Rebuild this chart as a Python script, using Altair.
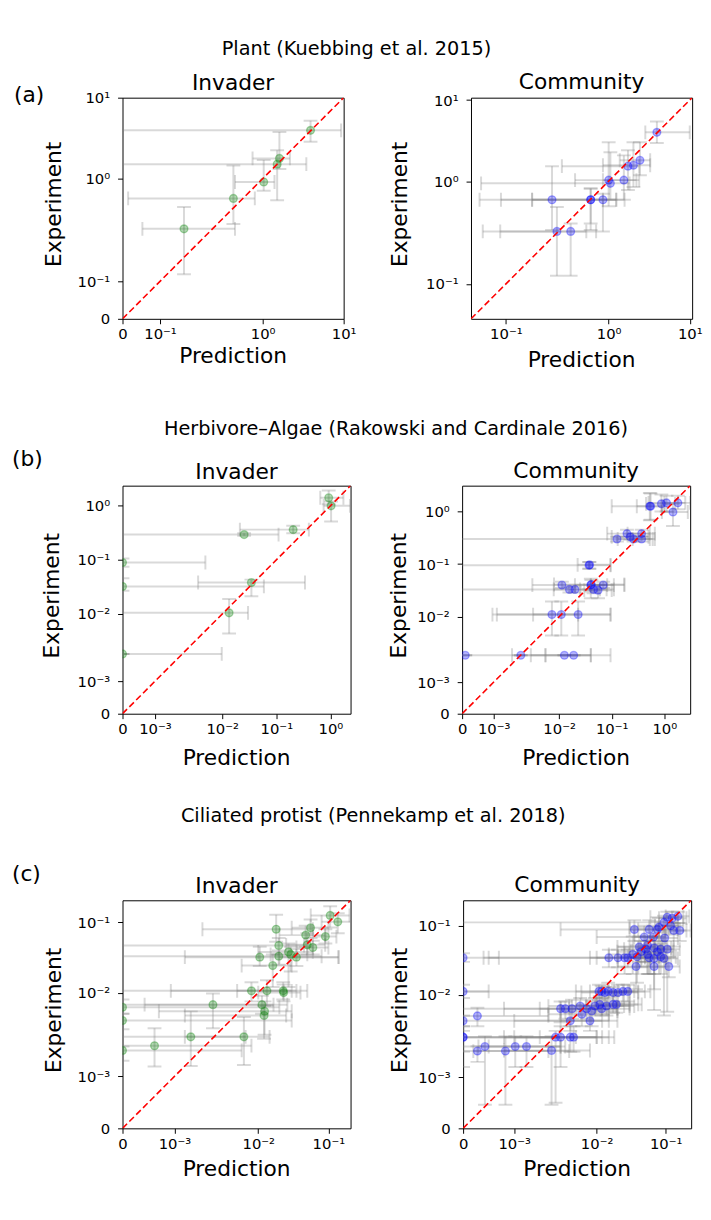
import math
import altair as alt
import pandas as pd

FONT = "DejaVu Sans"
LINSCALE = 1.0 / (1.0 - 1.0 / 10.0)   # symlog linear-region scale (linscale=1, base 10)
ERR_COLOR = "#808080"
ERR_ALPHA = 0.3

# ---------------- data ----------------
# (a) Plant (Kuebbing et al. 2015)
a_lt = 0.24
a_inv_x = [3.9, 1.61, 1.51, 1.03, 0.435, 0.164]
a_inv_y = [3.95, 1.78, 1.51, 0.91, 0.57, 0.24]
a_inv_xlo = [-0.05, 0.75, -0.05, 0.455, 0.015, 0.053]
a_inv_xhi = [9.3, 2.17, 3.46, 1.40, 0.80, 0.455]
a_inv_ylo = [2.85, 1.32, 0.54, 0.71, 0.275, 0.119]
a_inv_yhi = [5.2, 3.77, 2.25, 1.70, 1.45, 0.447]

a_com_x = [3.93, 1.73, 2.02, 2.43, 1.00, 1.05, 1.54, 0.223, 0.60, 0.60, 0.85, 0.236, 0.34]
a_com_y = [4.0, 1.53, 1.57, 1.81, 1.03, 0.94, 1.03, 0.59, 0.59, 0.59, 0.59, 0.24, 0.24]
a_com_xlo = [2.83, 0.265, 0.85, 1.37, 0.385, 0.034, 0.85, 0.087, 0.030, 0.17, 0.17, 0.0385, 0.085]
a_com_xhi = [10.0, 2.38, 3.25, 3.25, 2.38, 1.81, 2.2, 1.24, 0.85, 1.24, 1.57, 0.53, 0.70]
a_com_ylo = [2.96, 0.78, 0.85, 1.18, 0.49, 0.59, 0.59, 0.25, 0.25, 0.30, 0.24, 0.122, 0.122]
a_com_yhi = [5.43, 2.4, 3.02, 3.02, 3.02, 2.28, 2.08, 1.53, 0.81, 0.81, 0.70, 0.48, 0.30]

# (b) Herbivore-Algae (Rakowski and Cardinale 2016)
b_lt = 0.00185
b_inv_x = [0.93, 1.03, 0.205, 0.0254, 0.0, 0.0, 0.0346, 0.0134, 0.0]
b_inv_y = [1.41, 1.0, 0.363, 0.294, 0.0895, 0.0323, 0.0382, 0.0105, 0.00184]
b_inv_xlo = [0.65, 0.75, 0.0212, -0.01, -0.002, -0.002, 0.00358, -0.01, -0.002]
b_inv_xhi = [1.74, 2.3, 0.40, 0.11, 0.00488, 0.0589, 0.339, 0.030, 0.0098]
b_inv_ylo = [1.07, 0.515, 0.31, 0.28, 0.0746, 0.0269, 0.0212, 0.00435, 0.00184]
b_inv_yhi = [1.92, 1.2, 0.43, 0.31, 0.106, 0.0458, 0.0432, 0.019, 0.00184]

b_com_x = [0.53, 1.10, 1.46, 1.81, 0.88, 0.55,
           0.126, 0.195, 0.225, 0.26, 0.37, 0.37,
           0.037, 0.038,
           0.0113, 0.0157, 0.020, 0.040, 0.041, 0.045, 0.055, 0.069,
           0.0073, 0.011, 0.023,
           0.0001, 0.00187, 0.0126, 0.0189]
b_com_y = [1.26, 1.46, 0.98, 1.46, 1.40, 1.26,
           0.30, 0.38, 0.33, 0.30, 0.38, 0.30,
           0.095, 0.097,
           0.040, 0.033, 0.033, 0.040, 0.041, 0.033, 0.032, 0.040,
           0.011, 0.011, 0.011,
           0.00185, 0.00185, 0.00185, 0.00185]
b_com_xlo = [0.10, 0.5, 0.9, 1.0, 0.45, 0.3,
             -0.01, 0.082, 0.1, 0.13, 0.2, 0.25,
             -0.01, 0.0225,
             0.0031, -0.01, 0.0079, 0.02, 0.008, 0.025, 0.03, 0.04,
             0.00096, 0.0011, 0.0032,
             -0.001, 0.00158, 0.0029, 0.0055]
b_com_xhi = [1.0, 2.5, 2.8, 3.1, 1.6, 0.9,
             0.53, 0.53, 0.5, 0.66, 0.66, 0.6,
             0.095, 0.095,
             0.082, 0.11, 0.06, 0.11, 0.174, 0.08, 0.1, 0.174,
             0.023, 0.095, 0.095,
             0.0055, 0.04, 0.095, 0.04]
b_com_ylo = [0.68, 1.0, 0.53, 1.1, 1.0, 0.7,
             0.27, 0.33, 0.29, 0.27, 0.33, 0.27,
             0.082, 0.082,
             0.035, 0.029, 0.029, 0.0225, 0.03, 0.028, 0.0225, 0.035,
             0.0044, 0.0044, 0.0044,
             0.00185, 0.00185, 0.00185, 0.00185]
b_com_yhi = [2.25, 2.0, 1.4, 2.0, 2.1, 2.2,
             0.33, 0.45, 0.38, 0.34, 0.45, 0.34,
             0.11, 0.11,
             0.046, 0.037, 0.037, 0.053, 0.05, 0.038, 0.04, 0.046,
             0.0195, 0.0195, 0.0195,
             0.00185, 0.00185, 0.00185, 0.00185]

# (c) Ciliated protist (Pennekamp et al. 2018)
c_lt = 0.0015
c_inv_x = [0.106, 0.136, 0.0557, 0.018, 0.0474, 0.0906, 0.050, 0.060, 0.0196, 0.027,
           0.029, 0.035, 0.0196, 0.0105, 0.0161, 0.008, 0.0133, 0.0227, 0.023, 0.00226,
           0.0113, 0.0123, 0.0121, 0.0, 0.0, 0.001314, 0.00624, 0.000616, 0.0]
c_inv_y = [0.126, 0.102, 0.084, 0.080, 0.066, 0.063, 0.048, 0.044, 0.047, 0.038,
           0.035, 0.032, 0.033, 0.032, 0.0243, 0.0106, 0.0106, 0.0106, 0.0100, 0.00673,
           0.00673, 0.00542, 0.00472, 0.00618, 0.004, 0.00234, 0.00234, 0.00175, 0.0015]
c_inv_xlo = [0.056, 0.08, 0.03, 0.0016, 0.02, 0.06, 0.025, 0.035, -0.01, 0.01,
             0.015, 0.02, -0.01, 0.0012, 0.0058, 0.00093, -0.01, 0.005, 0.01, 0.000425,
             -0.01, 0.0007, 0.0012, -0.01, -0.01, -0.001, 0.0012, -0.001, -0.01]
c_inv_xhi = [0.2, 0.25, 0.1, 0.06, 0.09, 0.13, 0.09, 0.1, 0.045, 0.06,
             0.05, 0.139, 0.08, 0.14, 0.03, 0.03, 0.05, 0.035, 0.04, 0.0165,
             0.026, 0.03, 0.025, 0.02, 0.03, 0.0066, 0.0145, 0.008, 0.0058]
c_inv_ylo = [0.085, 0.07, 0.06, 0.053, 0.045, 0.05, 0.035, 0.035, 0.035, 0.012,
             0.02, 0.024, 0.025, 0.024, 0.012, 0.0075, 0.0065, 0.008, 0.0075, 0.0031,
             0.005, 0.0025, 0.0022, 0.005, 0.003, 0.0012, 0.00122, 0.00119, 0.0013]
c_inv_yhi = [0.17, 0.135, 0.11, 0.129, 0.09, 0.08, 0.07, 0.055, 0.06, 0.05,
             0.045, 0.042, 0.04, 0.045, 0.035, 0.014, 0.015, 0.014, 0.013, 0.0097,
             0.009, 0.0075, 0.0065, 0.008, 0.005, 0.0054, 0.0045, 0.0031, 0.0017]

c_com_x = [0.0352, 0.0577, 0.0759, 0.1054, 0.124, 0.15, 0.0944, 0.131, 0.16, 0.049,
           0.0665, 0.0966, 0.0415, 0.0546, 0.068, 0.0847, 0.1054, 0.0282, 0.0385, 0.068,
           0.0944, 0.0372, 0.068, 0.111, 0.0150, 0.0204, 0.0254, 0.0333, 0.0439, 0.0516,
           0.118, 0.08, 0.0546, 0.0759, 0.0847, 0.0577,
           0.0108, 0.0118, 0.0131, 0.0147, 0.0173, 0.0204, 0.024, 0.0282, 0.003, 0.00352,
           0.00439, 0.00577, 0.00718, 0.00944, 0.0111, 0.0139, 0.0173, 0.0193, 0.00848, 0.0061,
           0.008, 0.00415, 0.00254, 0.003, 0.00415, 0.00463, 0.00222, 0.0118,
           0.0, 0.0, 0.00028, 0.0, 0.0, 0.0, 0.00028, 0.000427, 0.000828, 0.00102, 0.00124]
c_com_y = [0.0885, 0.0885, 0.0885, 0.133, 0.129, 0.137, 0.112, 0.0855, 0.0855, 0.0687,
           0.0687, 0.0665, 0.0494, 0.0522, 0.0479, 0.0458, 0.0458, 0.0344, 0.0356, 0.0337,
           0.0337, 0.0257, 0.0257, 0.0257, 0.0344, 0.0344, 0.0344, 0.0385, 0.042, 0.0458,
           0.1, 0.0955, 0.0385, 0.042, 0.0356, 0.0344,
           0.0112, 0.0112, 0.0108, 0.0112, 0.0108, 0.0108, 0.0112, 0.0112, 0.0063, 0.0063,
           0.0063, 0.00687, 0.0063, 0.00687, 0.00726, 0.00687, 0.00726, 0.00726, 0.00583, 0.00522,
           0.0042, 0.0042, 0.00243, 0.00243, 0.00243, 0.00243, 0.00156, 0.0063,
           0.0344, 0.0112, 0.00494, 0.0042, 0.00243, 0.00243, 0.00153, 0.00178, 0.00153, 0.00178, 0.00178]
c_com_xlo = [0.003, 0.03, 0.04, 0.06, 0.08, 0.1, -0.01, 0.09, 0.11, 0.01,
             0.035, 0.06, 0.02, 0.03, 0.04, 0.05, 0.07, 0.0005, 0.02, 0.04,
             0.06, 0.02, 0.04, 0.08, 0.0004, 0.008, 0.01, 0.015, 0.02, 0.025,
             0.07, 0.03, 0.03, 0.045, 0.05, 0.03,
             -0.01, 0.005, 0.006, 0.008, 0.01, 0.012, 0.015, 0.018, -0.01, 0.0008,
             0.0015, 0.002, 0.003, 0.004, 0.005, 0.007, 0.01, 0.01, 0.003, 0.002,
             0.003, 0.001, -0.01, 0.0008, 0.001, 0.0015, 0.0008, 0.004,
             -0.01, -0.01, -0.001, -0.01, -0.01, -0.01, -0.001, -0.001, 0.0002, 0.0003, 0.0005]
c_com_xhi = [0.08, 0.1, 0.15, 0.18, 0.2, 0.22, 0.15, 0.2, 0.23, 0.08,
             0.1, 0.15, 0.07, 0.09, 0.12, 0.13, 0.16, 0.06, 0.08, 0.12,
             0.15, 0.06, 0.1, 0.16, 0.05, 0.045, 0.1, 0.06, 0.08, 0.09,
             0.18, 0.14, 0.09, 0.13, 0.14, 0.1,
             0.03, 0.035, 0.025, 0.04, 0.03, 0.04, 0.05, 0.06, 0.012, 0.015,
             0.02, 0.025, 0.02, 0.03, 0.03, 0.035, 0.04, 0.045, 0.02, 0.015,
             0.02, 0.012, 0.01, 0.012, 0.015, 0.018, 0.008, 0.03,
             0.0007, 0.0005, 0.002, 0.015, 0.005, 0.01, 0.004, 0.003, 0.002, 0.003, 0.0035]
c_com_ylo = [0.06, 0.06, 0.065, 0.1, 0.1, 0.11, 0.08, 0.05, 0.06, 0.03,
             0.04, 0.045, 0.03, 0.02, 0.012, 0.03, 0.0057, 0.025, 0.015, 0.02,
             0.005, 0.012, 0.006, 0.018, 0.025, 0.025, 0.02, 0.02, 0.025, 0.03,
             0.075, 0.07, 0.02, 0.025, 0.02, 0.02,
             0.0085, 0.009, 0.0075, 0.0085, 0.008, 0.0075, 0.008, 0.008, 0.004, 0.0045,
             0.0045, 0.005, 0.0045, 0.005, 0.0055, 0.005, 0.0055, 0.0055, 0.0035, 0.0035,
             0.003, 0.003, 0.0005, 0.0012, 0.0015, 0.0015, 0.00046, 0.005,
             0.03, 0.009, 0.0035, 0.003, 0.0015, 0.0012, 0.0013, 0.00046, 0.00046, 0.0012, 0.0012]
c_com_yhi = [0.12, 0.12, 0.115, 0.16, 0.16, 0.16, 0.14, 0.11, 0.11, 0.1,
             0.1, 0.09, 0.07, 0.07, 0.07, 0.06, 0.06, 0.045, 0.05, 0.05,
             0.05, 0.035, 0.04, 0.035, 0.045, 0.045, 0.05, 0.07, 0.06, 0.07,
             0.13, 0.13, 0.06, 0.06, 0.055, 0.05,
             0.014, 0.0135, 0.013, 0.015, 0.013, 0.014, 0.014, 0.014, 0.008, 0.008,
             0.0085, 0.009, 0.0085, 0.009, 0.0095, 0.009, 0.0095, 0.01, 0.008, 0.007,
             0.0055, 0.0055, 0.003, 0.0035, 0.0035, 0.0035, 0.0025, 0.008,
             0.04, 0.014, 0.0065, 0.005, 0.0035, 0.0035, 0.0018, 0.0025, 0.0025, 0.0025, 0.0025]

row_titles = ["Plant (Kuebbing et al. 2015)",
              "Herbivore\u2013Algae (Rakowski and Cardinale 2016)",
              "Ciliated protist (Pennekamp et al. 2018)"]
row_labels = ["(a)", "(b)", "(c)"]
SUP = {"-3": "10\u207b\u00b3", "-2": "10\u207b\u00b2", "-1": "10\u207b\u00b9", "0": "10\u2070", "1": "10\u00b9"}


# ---------------- helpers ----------------
def sym(v, lt):
    a = abs(v)
    t = a * LINSCALE if a <= lt else lt * (LINSCALE + math.log10(a / lt))
    return -t if v < 0 else t


def sym_expr(f, lt):
    d = f"datum['{f}']"
    return (f"({d} < 0 ? -1 : 1) * (abs({d}) <= {lt} ? abs({d}) * {LINSCALE} : "
            f"{lt} * ({LINSCALE} + log(abs({d}) / {lt}) / LN10))")


def label_expr(tv, labels):
    e = f"'{labels[-1]}'"
    for i in range(len(tv) - 2, -1, -1):
        e = f"datum.value < {(tv[i] + tv[i + 1]) / 2} ? '{labels[i]}' : ({e})"
    return e


def txt(s, x, y, size=22, align="center", baseline="alphabetic", angle=0):
    return alt.Chart(pd.DataFrame({"t": [s]})).mark_text(
        align=align, baseline=baseline, fontSize=size, font=FONT, color="black", angle=angle
    ).encode(text="t:N", x=alt.value(x), y=alt.value(y))


def panel(vals, lt, lo, hi, ticks, labels, color, w, h, annotations):
    x, y, xlo, xhi, ylo, yhi = vals
    df = pd.DataFrame(dict(x=x, y=y, xlo=xlo, xhi=xhi, ylo=ylo, yhi=yhi))
    dom = [sym(lo, lt), sym(hi, lt)]
    tv = [sym(t, lt) for t in ticks]
    le = label_expr(tv, labels)
    sc = alt.Scale(domain=dom, nice=False, zero=False)
    common = dict(values=tv, labelExpr=le, title=None, grid=False, domain=False,
                  tickSize=5, tickColor="black", tickWidth=1, labelFont=FONT,
                  labelFontSize=15, labelColor="black", labelOverlap=False, labelFlush=False)
    xax = alt.Axis(labelPadding=3, **common)
    yax = alt.Axis(labelPadding=8, **common)

    def X(f):
        return alt.X(f"{f}:Q", scale=sc, axis=xax)

    def Y(f):
        return alt.Y(f"{f}:Q", scale=sc, axis=yax)

    base = alt.Chart(df).transform_calculate(
        **{"t" + c: sym_expr(c, lt) for c in ["x", "y", "xlo", "xhi", "ylo", "yhi"]})
    err = dict(color=ERR_COLOR, opacity=ERR_ALPHA, clip=True)
    layers = [
        base.mark_rule(strokeWidth=2, **err).encode(x=X("txlo"), x2=alt.X2("txhi:Q"), y=Y("ty")),
        base.mark_tick(orient="vertical", size=14, thickness=2, **err).encode(x=X("txlo"), y=Y("ty")),
        base.mark_tick(orient="vertical", size=14, thickness=2, **err).encode(x=X("txhi"), y=Y("ty")),
        base.mark_rule(strokeWidth=2, **err).encode(x=X("tx"), y=Y("tylo"), y2=alt.Y2("tyhi:Q")),
        base.mark_tick(orient="horizontal", size=14, thickness=2, **err).encode(x=X("tx"), y=Y("tylo")),
        base.mark_tick(orient="horizontal", size=14, thickness=2, **err).encode(x=X("tx"), y=Y("tyhi")),
        base.mark_circle(size=62, fill=color, stroke=color, fillOpacity=0.3, strokeOpacity=0.3,
                         strokeWidth=1.4, opacity=1, clip=True).encode(x=X("tx"), y=Y("ty")),
        alt.Chart(pd.DataFrame({"v": [lo, hi]})).transform_calculate(tv=sym_expr("v", lt))
        .mark_line(color="red", strokeDash=[6.5, 3.3], strokeWidth=1.6, clip=True)
        .encode(x=X("tv"), y=Y("tv")),
    ]
    return alt.layer(*layers, *annotations).properties(width=w, height=h)


def spacer(x0, y0, y1):
    # invisible rule fixing the vertical extent of each row
    return alt.Chart(pd.DataFrame({"s": [0]})).mark_rule(opacity=0).encode(
        x=alt.value(x0), y=alt.value(y0), y2=alt.value(y1))


GREEN = "#008000"
BLUE = "#0000ff"

# ---- row a ----
wa = 224
a_inv = panel([a_inv_x, a_inv_y, a_inv_xlo, a_inv_xhi, a_inv_ylo, a_inv_yhi], a_lt, 0, 10,
              [0, 0.1, 1, 10], ["0", SUP["-1"], SUP["0"], SUP["1"]], GREEN, wa, wa,
              [txt(row_labels[0], -110, -3, align="left", baseline="middle"),
               txt(row_titles[0], 237, -43, size=19.5),
               txt("Invader", wa / 2, -8),
               txt("Prediction", wa / 2, wa + 45),
               txt("Experiment", -62, wa / 2 - 4, angle=270),
               spacer(-113, -82, 305)])
a_com = panel([a_com_x, a_com_y, a_com_xlo, a_com_xhi, a_com_ylo, a_com_yhi], a_lt, 0.0072, 10.7,
              [0.1, 1, 10], [SUP["-1"], SUP["0"], SUP["1"]], BLUE, wa, wa,
              [txt("Community", wa / 2, -9),
               txt("Prediction", wa / 2, wa + 49),
               txt("Experiment", -65, wa / 2 - 4, angle=270)])
row_a = alt.hconcat(a_inv, a_com, spacing=129, bounds="flush")

# ---- row b ----
wb = 231
b_ticks = [0, 0.001, 0.01, 0.1, 1]
b_lab = ["0", SUP["-3"], SUP["-2"], SUP["-1"], SUP["0"]]
b_inv = panel([b_inv_x, b_inv_y, b_inv_xlo, b_inv_xhi, b_inv_ylo, b_inv_yhi], b_lt, 0, 2.36,
              b_ticks, b_lab, GREEN, wb, wb,
              [txt(row_labels[1], -112, -27, align="left", baseline="middle"),
               txt(row_titles[1], 277, -51, size=19.5),
               txt("Invader", wb / 2, -7),
               txt("Prediction", wb / 2, wb + 52),
               txt("Experiment", -64, wb / 2 - 4, angle=270),
               spacer(-115, -86, 314)])
b_com = panel([b_com_x, b_com_y, b_com_xlo, b_com_xhi, b_com_ylo, b_com_yhi], b_lt, 0, 3.1,
              b_ticks, b_lab, BLUE, wb, wb,
              [txt("Community", wb / 2, -8),
               txt("Prediction", wb / 2, wb + 52),
               txt("Experiment", -57, wb / 2 - 4, angle=270)])
row_b = alt.hconcat(b_inv, b_com, spacing=113, bounds="flush")

# ---- row c ----
c_ticks = [0, 0.001, 0.01, 0.1]
c_lab = ["0", SUP["-3"], SUP["-2"], SUP["-1"]]
c_inv = panel([c_inv_x, c_inv_y, c_inv_xlo, c_inv_xhi, c_inv_ylo, c_inv_yhi], c_lt, 0, 0.207,
              c_ticks, c_lab, GREEN, wb, wb,
              [txt(row_labels[2], -112, -27, align="left", baseline="middle"),
               txt(row_titles[2], 254, -79, size=19.5),
               txt("Invader", wb / 2, -7),
               txt("Prediction", wb / 2, wb + 48),
               txt("Experiment", -62, wb / 2 - 4, angle=270),
               spacer(-113, -104, 316)])
c_com = panel([c_com_x, c_com_y, c_com_xlo, c_com_xhi, c_com_ylo, c_com_yhi], c_lt, 0, 0.234,
              c_ticks, c_lab, BLUE, wb, wb,
              [txt("Community", wb / 2, -8),
               txt("Prediction", wb / 2, wb + 48),
               txt("Experiment", -57, wb / 2 - 4, angle=270)])
row_c = alt.hconcat(c_inv, c_com, spacing=114, bounds="flush")

chart = alt.vconcat(row_a, row_b, row_c, spacing=0).properties(
    padding=0, background="white"
).configure_view(stroke="black", strokeWidth=1)

chart.save("out.html", embed_options={"renderer": "svg", "actions": False})
